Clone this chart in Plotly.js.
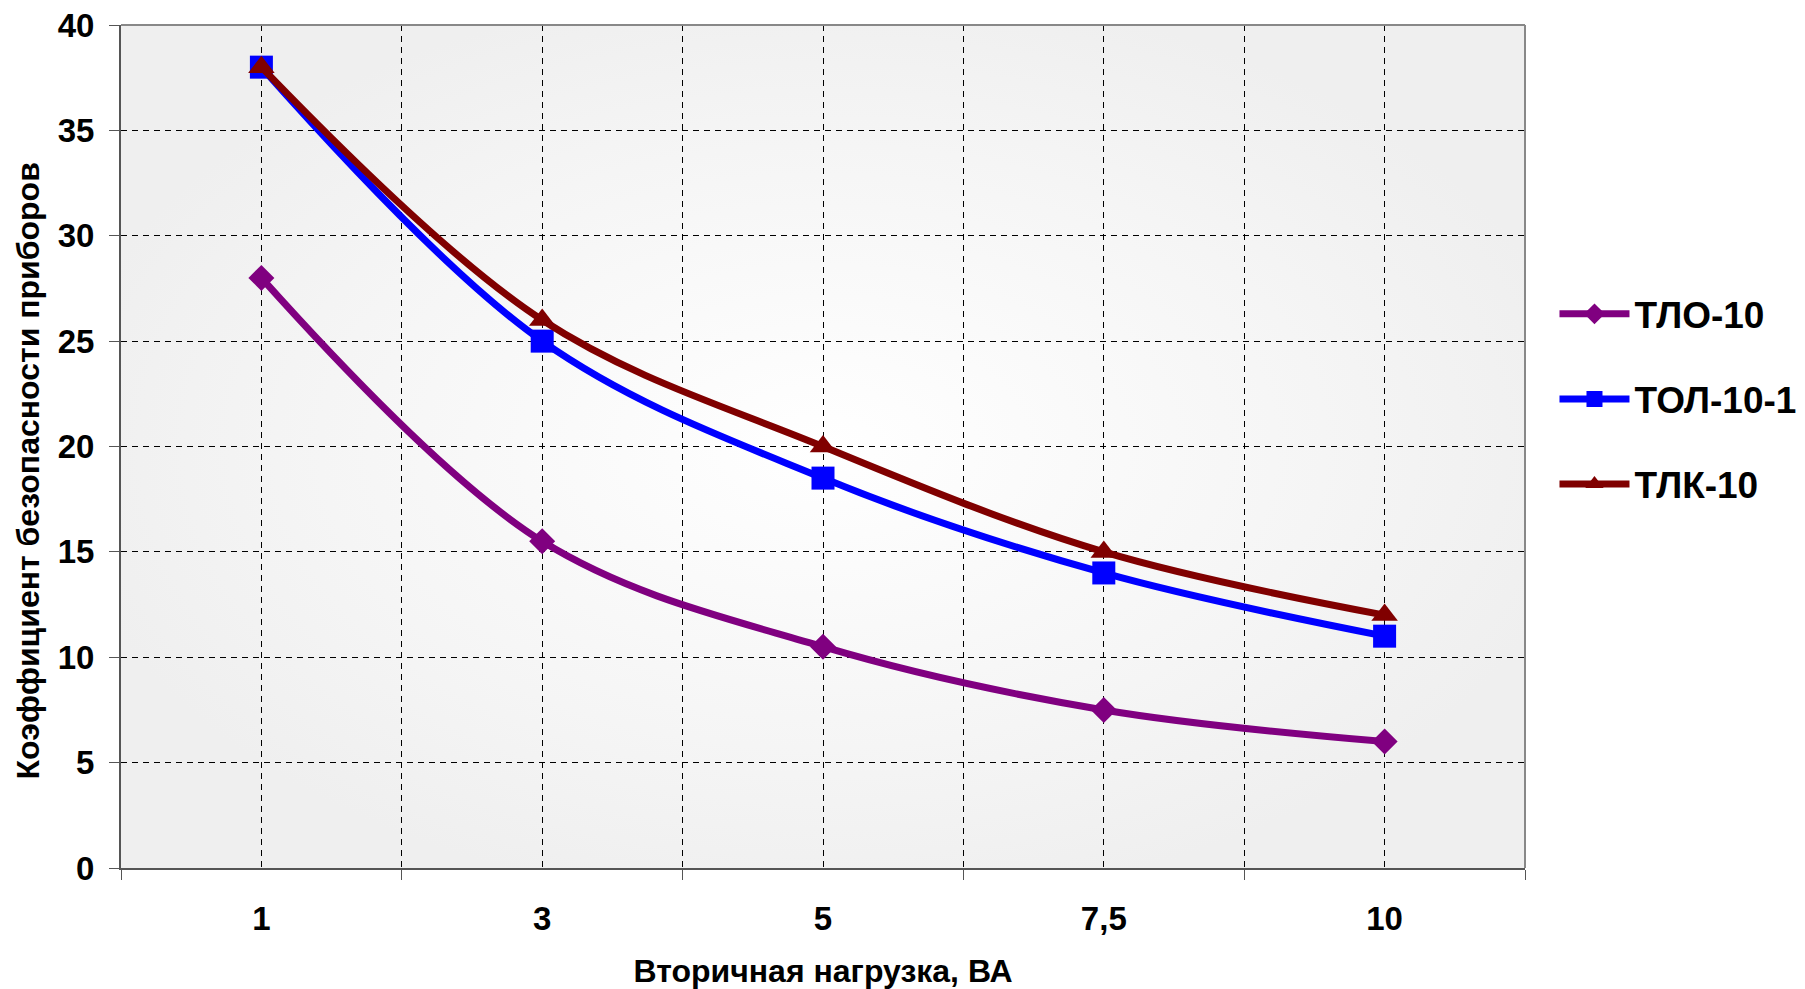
<!DOCTYPE html>
<html>
<head>
<meta charset="utf-8">
<script src="https://cdn.plot.ly/plotly-3.0.1.min.js"></script>
<style>html,body{margin:0;padding:0;background:#fff;}</style>
</head>
<body>
<div id="chart" style="width:1805px;height:989px;"></div>
<script>
// Data
const categories = ["1", "3", "5", "7,5", "10"];
const seriesNames = ["ТЛО-10", "ТОЛ-10-1", "ТЛК-10"];
const tlo10 = [28, 15.5, 10.5, 7.5, 6];
const tol101 = [38, 25, 18.5, 14, 11];
const tlk10 = [38, 26, 20, 15, 12];
const yTicks = [0, 5, 10, 15, 20, 25, 30, 35, 40];
const xTitle = "Вторичная нагрузка, ВА";
const yTitle = "Коэффициент безопасности приборов";

const xPos = categories.map((c, i) => i + 1);
const boundaries = [0.5].concat(xPos.map(v => v + 0.5));

const FONT = "Liberation Sans, Arial, sans-serif";

function mk(name, ys, color, symbol, size, group) {
  return {
    type: "scatter", mode: "lines+markers", name: name,
    x: xPos, y: ys, legendgroup: group,
    line: {color: color, width: 7, shape: "spline", smoothing: 1},
    marker: {color: color, symbol: symbol, size: size, line: {width: 0}},
    hoverinfo: "x+y"
  };
}

const traces = [
  mk(seriesNames[0], tlo10, "#800080", "diamond", 20, "a"),
  mk(seriesNames[1], tol101, "#0000FF", "square", 23, "b"),
  mk(seriesNames[2], tlk10, "#800000", "triangle-up", 23, "c")
];

const bgSvg = '<svg xmlns="http://www.w3.org/2000/svg" width="1404" height="843" viewBox="0 0 1404 843" preserveAspectRatio="none">' +
  '<defs><radialGradient id="g" cx="50%" cy="50%" r="55%"><stop offset="0%" stop-color="#ffffff"/><stop offset="65%" stop-color="#f5f5f5"/><stop offset="100%" stop-color="#efefef"/></radialGradient></defs>' +
  '<rect width="1404" height="843" fill="url(#g)"/></svg>';
const bgUri = "data:image/svg+xml;base64," + btoa(bgSvg);

const layout = {
  width: 1805, height: 989,
  margin: {l: 121, r: 280, t: 25, b: 121, autoexpand: false},
  paper_bgcolor: "#ffffff",
  plot_bgcolor: "#f0f0f0",
  font: {family: FONT, color: "#000", size: 33, weight: "bold"},
  showlegend: true,
  images: [{
    source: bgUri, xref: "paper", yref: "paper", x: 0, y: 1,
    sizex: 1, sizey: 1, sizing: "stretch", layer: "below",
    xanchor: "left", yanchor: "top"
  }],
  xaxis: {
    range: [0.5, 5.5], tickmode: "array", tickvals: xPos, ticktext: categories,
    ticks: "", showgrid: true, gridcolor: "#000", gridwidth: 1, griddash: "6px,5px",
    showline: true, linecolor: "#555", linewidth: 2, mirror: false,
    zeroline: false, ticklabelstandoff: 20,
    tickfont: {family: FONT, size: 33, weight: "bold", color: "#000"},
    minor: {tickmode: "array", tickvals: boundaries, ticks: "outside", ticklen: 10, tickwidth: 1, tickcolor: "#555",
            showgrid: true, gridcolor: "#000", gridwidth: 1, griddash: "6px,5px"},
    title: {text: xTitle, font: {family: FONT, size: 32, weight: "bold", color: "#000"}, standoff: 24},
    fixedrange: true
  },
  yaxis: {
    range: [0, 40], tickmode: "array", tickvals: yTicks,
    ticks: "outside", ticklen: 10, tickwidth: 1, tickcolor: "#555",
    showgrid: true, gridcolor: "#000", gridwidth: 1, griddash: "6px,5px",
    showline: true, linecolor: "#555", linewidth: 2,
    zeroline: false, ticklabelstandoff: 8,
    tickfont: {family: FONT, size: 33, weight: "bold", color: "#000"},
    title: {text: ""},
    fixedrange: true
  },
  annotations: [{
    text: yTitle, xref: "paper", yref: "paper", x: -0.0666, y: 0.471,
    xanchor: "center", yanchor: "middle", textangle: -90, showarrow: false,
    font: {family: FONT, size: 32, weight: "bold", color: "#000"}
  }],
  shapes: [
    {type: "line", xref: "paper", yref: "paper", x0: 0, x1: 1, y0: 1, y1: 1, line: {color: "#888", width: 2}},
    {type: "line", xref: "paper", yref: "paper", x0: 1, x1: 1, y0: 0, y1: 1, line: {color: "#888", width: 2}}
  ],
  legend: {
    x: 1.021, y: 0.556, xanchor: "left", yanchor: "middle",
    font: {family: FONT, size: 37, weight: "bold", color: "#000"},
    bgcolor: "rgba(0,0,0,0)", borderwidth: 0,
    traceorder: "grouped", tracegroupgap: 34, itemwidth: 70
  }
};

Plotly.newPlot("chart", traces, layout, {displayModeBar: false, staticPlot: true});
</script>
</body>
</html>
